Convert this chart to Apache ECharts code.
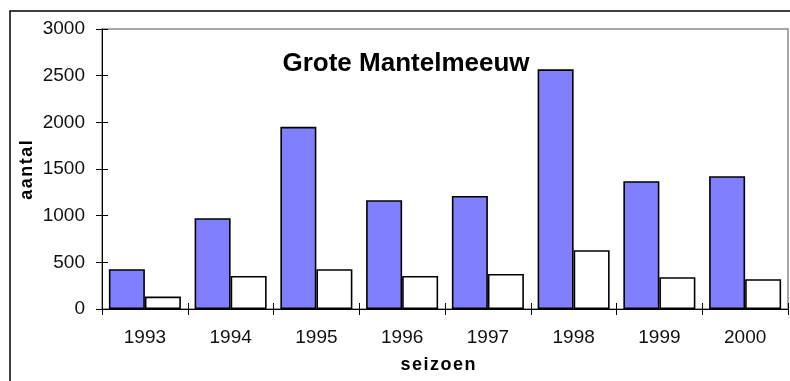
<!DOCTYPE html>
<html>
<head>
<meta charset="utf-8">
<script src="https://cdn.jsdelivr.net/npm/echarts@6/dist/echarts.min.js"></script>
<style>
  html, body { margin: 0; padding: 0; background: #fff; }
  #chart { width: 790px; height: 381px; }
</style>
</head>
<body>
<div id="chart"></div>
<script>
// Seasons on the x axis
const seasons = ['1993', '1994', '1995', '1996', '1997', '1998', '1999', '2000'];
// Counts per season (blue bars and white bars)
const countsA = [426, 973, 1952, 1166, 1212, 2568, 1370, 1423];
const countsB = [133, 354, 426, 354, 375, 630, 340, 319];
// Value axis ticks
const yMin = 0, yMax = 3000, yStep = 500;

const FONT = '"Liberation Sans", Arial, Helvetica, sans-serif';
const HAIR = '\u200A';
const spaced = s => s.split('').join(HAIR);

const chart = echarts.init(document.getElementById('chart'), null, { renderer: 'canvas' });

const baseX = {
  type: 'category',
  data: seasons,
  position: 'bottom',
  boundaryGap: true,
  axisLine: { show: true, lineStyle: { color: '#000', width: 1 } },
  splitLine: { show: false }
};
const baseY = {
  type: 'value',
  position: 'left',
  min: yMin, max: yMax, interval: yStep,
  splitLine: { show: false }
};

chart.setOption({
  animation: false,
  backgroundColor: '#fff',
  grid: {
    left: 102, right: 2, top: 29, bottom: 72,
    show: true, borderColor: '#8a8a8a', borderWidth: 1.5, backgroundColor: '#fff'
  },
  xAxis: [
    Object.assign({}, baseX, {
      axisTick: { show: true, inside: false, length: 6, lineStyle: { color: '#000' } },
      axisLabel: { color: '#111', fontFamily: FONT, fontSize: 19, margin: 19 }
    }),
    Object.assign({}, baseX, {
      axisLine: { show: false },
      axisTick: { show: true, inside: true, length: 6, lineStyle: { color: '#000' } },
      axisLabel: { show: false }
    })
  ],
  yAxis: [
    Object.assign({}, baseY, {
      axisLine: { show: true, lineStyle: { color: '#000', width: 1 } },
      axisTick: { show: true, inside: false, length: 6, lineStyle: { color: '#000' } },
      axisLabel: { color: '#111', fontFamily: FONT, fontSize: 19, margin: 17, formatter: v => String(v) }
    }),
    Object.assign({}, baseY, {
      axisLine: { show: false },
      axisTick: { show: true, inside: true, length: 6, lineStyle: { color: '#000' } },
      axisLabel: { show: false }
    })
  ],
  series: [
    {
      type: 'bar', xAxisIndex: 0, yAxisIndex: 0,
      data: countsA,
      barGap: '0%', barCategoryGap: '16%',
      itemStyle: { color: '#8080FF', borderColor: '#000', borderWidth: 1.6 }
    },
    {
      type: 'bar', xAxisIndex: 0, yAxisIndex: 0,
      data: countsB,
      barGap: '0%', barCategoryGap: '16%',
      itemStyle: { color: '#FFFFFF', borderColor: '#000', borderWidth: 1.6 }
    }
  ],
  graphic: [
    {
      type: 'rect', silent: true, z: -1,
      shape: { x: 10, y: 11, width: 800, height: 400 },
      style: { fill: 'none', stroke: '#000', lineWidth: 1.5 }
    },
    {
      type: 'text', x: 406, y: 64, z: 10,
      style: {
        text: 'Grote Mantelmeeuw', fill: '#000',
        font: 'bold 26px ' + FONT, textAlign: 'center', textVerticalAlign: 'middle'
      }
    },
    {
      type: 'text', x: 438, y: 365,
      style: {
        text: spaced('seizoen'), fill: '#000',
        font: 'bold 18px ' + FONT, textAlign: 'center', textVerticalAlign: 'middle'
      }
    },
    {
      type: 'text', x: 27.5, y: 170, rotation: Math.PI / 2,
      style: {
        text: spaced('aantal'), fill: '#000',
        font: 'bold 18px ' + FONT, textAlign: 'center', textVerticalAlign: 'middle'
      }
    }
  ]
});
</script>
</body>
</html>
